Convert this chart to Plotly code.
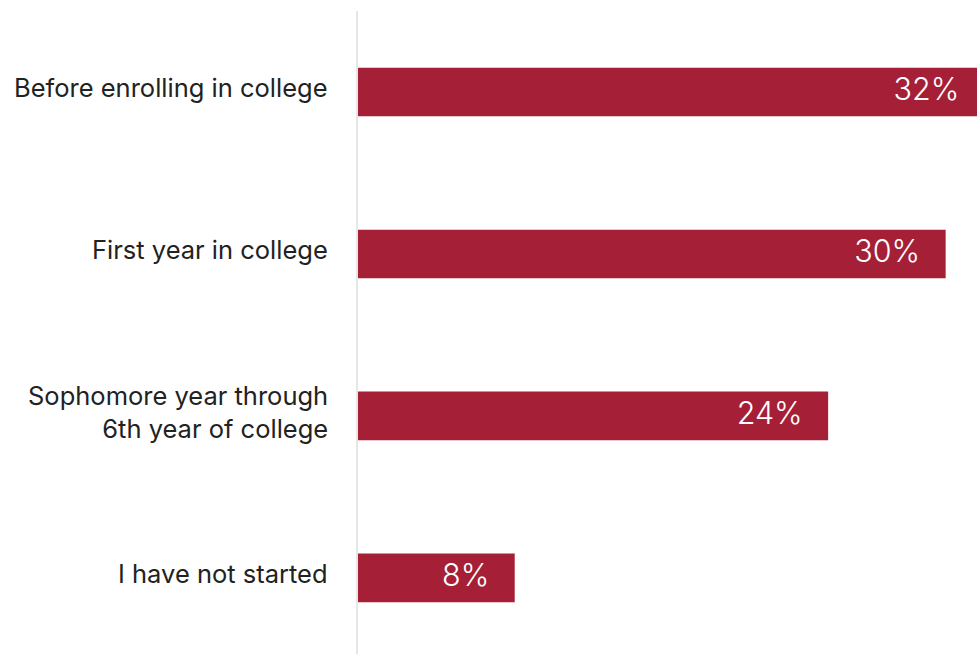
import plotly.graph_objects as go

categories = ["Before enrolling in college", "First year in college",
              "Sophomore year through<br>6th year of college", "I have not started"]
values = [32, 30, 24, 8]
labels = ["32%", "30%", "24%", "8%"]

bar_color = "#a52036"
label_offset = 1.3  # in % units, gap between bar end and label end

fig = go.Figure()
fig.add_trace(go.Bar(
    x=values, y=categories, orientation="h",
    marker=dict(color=bar_color, line=dict(width=0)),
    width=0.3, hoverinfo="skip",
))
fig.add_trace(go.Scatter(
    x=[v - label_offset for v in values], y=categories, mode="text",
    text=labels, textposition="middle left",
    textfont=dict(family="Inter", size=30.5, color="white", weight=300),
    hoverinfo="skip", cliponaxis=False,
))

for cat in categories:
    fig.add_annotation(
        x=0, xref="paper", y=cat, yref="y",
        text=cat, showarrow=False, xanchor="right", yanchor="middle",
        align="right", xshift=-28, yshift=4,
        font=dict(family="Inter", size=25.5, color="#222222"),
    )

fig.update_layout(
    width=977, height=654,
    margin=dict(l=358, r=0, t=11, b=0),
    paper_bgcolor="white", plot_bgcolor="white",
    showlegend=False,
    xaxis=dict(range=[0, 31.6], visible=False, fixedrange=True),
    yaxis=dict(
        type="category", categoryorder="array", categoryarray=categories,
        range=[3.47, -0.5], fixedrange=True,
        showline=True, linecolor="#e6e6e6", linewidth=2,
        showgrid=False, zeroline=False, ticks="", showticklabels=False,
    ),
)

fig.write_html(
    "out.html",
    config={"displayModeBar": False, "staticPlot": True},
    post_script="document.body.style.margin='0';document.body.style.overflow='hidden';",
)
